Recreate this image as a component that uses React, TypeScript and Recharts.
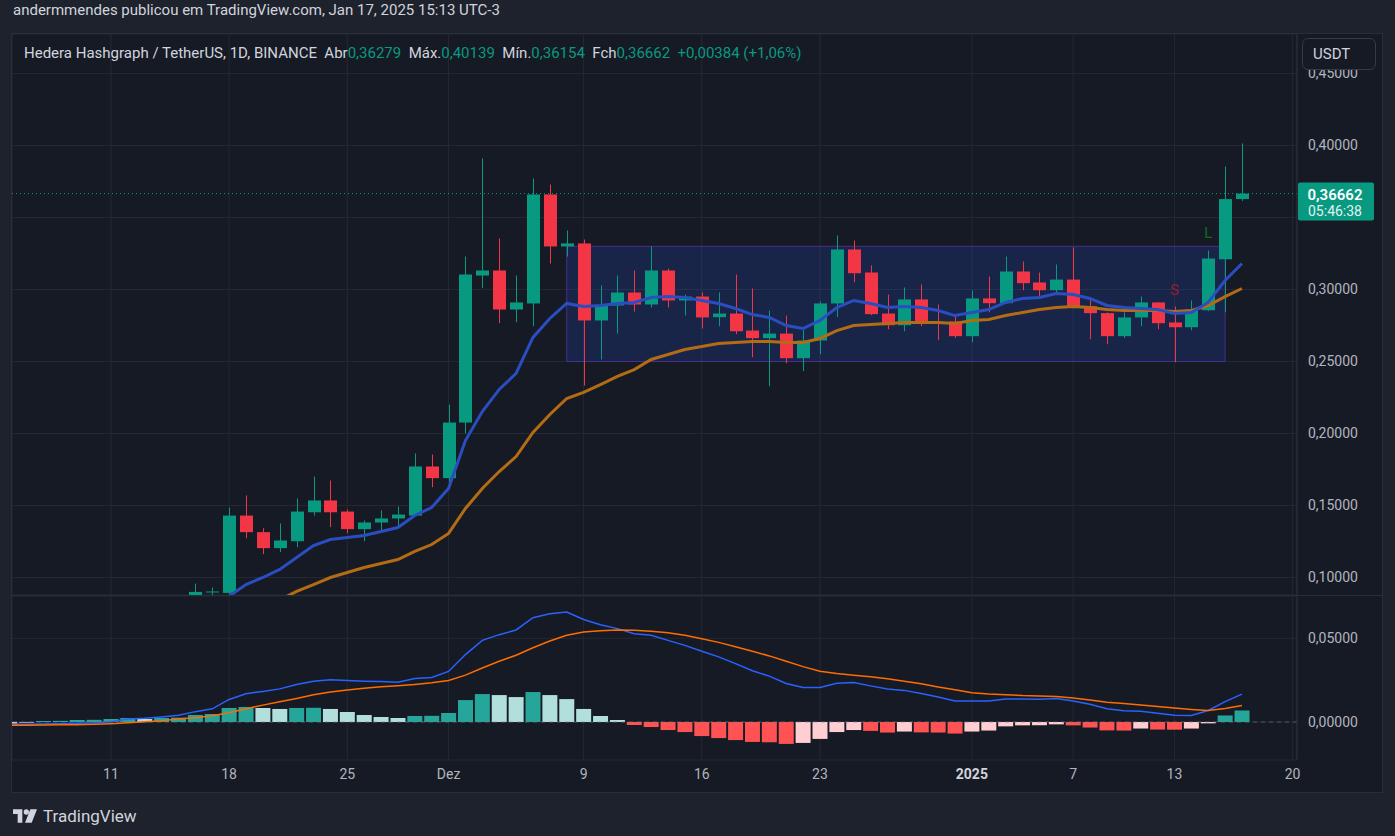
import {
  Bar,
  CartesianGrid,
  Cell,
  ComposedChart,
  Line,
  ReferenceArea,
  ReferenceDot,
  ReferenceLine,
  XAxis,
  YAxis,
} from "recharts";

// HBAR/USDT daily, 5 Nov 2024 (index 0) .. 17 Jan 2025 (index 73)
const openPx = [
  0.0482, 0.0508, 0.0545, 0.0562, 0.058, 0.0618, 0.0688, 0.0718, 0.0742, 0.0705, 0.069, 0.0765, 0.0897,
  0.0893, 0.143, 0.1315, 0.1204, 0.1252, 0.1453, 0.1535, 0.1458, 0.1336, 0.1382, 0.141, 0.143, 0.1771,
  0.169, 0.2076, 0.3097, 0.3132, 0.2861, 0.2903, 0.366, 0.3299, 0.332, 0.2785, 0.2889, 0.2979, 0.2896,
  0.3132, 0.2924, 0.2951, 0.2808, 0.2833, 0.2715, 0.2662, 0.2694, 0.2523, 0.2646, 0.2903, 0.3278, 0.3118,
  0.2833, 0.2752, 0.2931, 0.2775, 0.2778, 0.2676, 0.2938, 0.2905, 0.3125, 0.3049, 0.2995, 0.3069, 0.2884,
  0.2836, 0.2676, 0.2806, 0.291, 0.2771, 0.2738, 0.2856, 0.321, 0.36279,
];
const highPx = [
  0.0515, 0.0555, 0.057, 0.059, 0.064, 0.072, 0.0745, 0.079, 0.076, 0.073, 0.078, 0.0958, 0.0931,
  0.1486, 0.157, 0.1342, 0.1375, 0.1549, 0.1701, 0.1674, 0.1472, 0.1396, 0.1465, 0.1493, 0.1861, 0.1854,
  0.2201, 0.3229, 0.391, 0.3354, 0.3097, 0.3771, 0.3729, 0.341, 0.3347, 0.3028, 0.3097, 0.3132, 0.3299,
  0.3146, 0.2965, 0.298, 0.298, 0.3104, 0.3007, 0.2854, 0.2819, 0.2722, 0.2917, 0.3375, 0.334, 0.3167,
  0.2965, 0.3014, 0.3035, 0.2896, 0.2815, 0.2993, 0.309, 0.3229, 0.3194, 0.3118, 0.3174, 0.3292, 0.2944,
  0.2841, 0.2841, 0.2951, 0.2912, 0.2882, 0.2924, 0.3271, 0.3854, 0.40139,
];
const lowPx = [
  0.0478, 0.05, 0.053, 0.055, 0.0575, 0.061, 0.0665, 0.069, 0.068, 0.066, 0.0685, 0.076, 0.087,
  0.087, 0.1273, 0.1162, 0.1176, 0.121, 0.143, 0.135, 0.1308, 0.1252, 0.1315, 0.1354, 0.1425, 0.1627,
  0.1632, 0.2, 0.3009, 0.2766, 0.2773, 0.2745, 0.318, 0.3229, 0.2333, 0.2514, 0.2694, 0.2847, 0.2875,
  0.2875, 0.2819, 0.2729, 0.2745, 0.269, 0.253, 0.2328, 0.2488, 0.2433, 0.255, 0.2808, 0.3051, 0.2822,
  0.2724, 0.271, 0.2745, 0.2648, 0.2663, 0.2634, 0.2842, 0.29, 0.2995, 0.2947, 0.2962, 0.287, 0.2655,
  0.262, 0.2663, 0.2745, 0.2724, 0.2495, 0.2717, 0.285, 0.2842, 0.36154,
];
const closePx = [
  0.0508, 0.0545, 0.0562, 0.058, 0.0618, 0.0688, 0.0718, 0.0742, 0.0705, 0.069, 0.0765, 0.09, 0.0903,
  0.143, 0.1315, 0.1204, 0.1257, 0.1458, 0.1535, 0.1453, 0.1336, 0.1382, 0.141, 0.1437, 0.1771, 0.169,
  0.2076, 0.3104, 0.3132, 0.2861, 0.291, 0.366, 0.3299, 0.332, 0.2785, 0.2889, 0.2979, 0.2896, 0.3132,
  0.2924, 0.2951, 0.2806, 0.2833, 0.271, 0.2662, 0.2694, 0.2523, 0.2646, 0.2903, 0.3278, 0.3113, 0.2829,
  0.2752, 0.2931, 0.2773, 0.2771, 0.2676, 0.2938, 0.2905, 0.3125, 0.3044, 0.2995, 0.3069, 0.2875, 0.2836,
  0.2676, 0.2806, 0.291, 0.2766, 0.2738, 0.2861, 0.3215, 0.3628, 0.36662,
];
const emaFast = [
  0.05, 0.052, 0.054, 0.056, 0.058, 0.061, 0.064, 0.067, 0.068, 0.069, 0.071, 0.076, 0.08,
  0.087, 0.0951, 0.1, 0.1056, 0.1139, 0.1222, 0.1264, 0.1278, 0.1292, 0.132, 0.1347, 0.1431, 0.1486,
  0.1618, 0.1951, 0.2153, 0.2306, 0.2417, 0.2667, 0.2799, 0.2903, 0.2882, 0.2889, 0.2903, 0.291, 0.2944,
  0.2951, 0.2944, 0.2924, 0.2903, 0.2868, 0.2826, 0.2806, 0.275, 0.2729, 0.2785, 0.2875, 0.2924, 0.2903,
  0.2875, 0.2882, 0.2875, 0.2854, 0.2819, 0.284, 0.2861, 0.291, 0.2938, 0.2944, 0.2972, 0.2965, 0.2938,
  0.2889, 0.2875, 0.2868, 0.2861, 0.2833, 0.284, 0.291, 0.3063, 0.3181,
];
const emaSlow = [
  0.046, 0.048, 0.049, 0.051, 0.053, 0.055, 0.057, 0.059, 0.061, 0.062, 0.064, 0.067, 0.07,
  0.0745, 0.0785, 0.0815, 0.0845, 0.0903, 0.0951, 0.1, 0.1035, 0.1069, 0.1097, 0.1125, 0.1181, 0.1229,
  0.1306, 0.1479, 0.1618, 0.1736, 0.184, 0.2007, 0.2132, 0.2243, 0.2285, 0.234, 0.2396, 0.2444, 0.2514,
  0.2549, 0.2583, 0.2604, 0.2625, 0.2632, 0.2639, 0.2639, 0.2632, 0.2632, 0.266, 0.2715, 0.275, 0.2757,
  0.2764, 0.2771, 0.2771, 0.2771, 0.2764, 0.2785, 0.2792, 0.2819, 0.284, 0.2861, 0.2875, 0.2882, 0.2875,
  0.2861, 0.2854, 0.2854, 0.2854, 0.2847, 0.2854, 0.2889, 0.2951, 0.3007,
];
const macdLine = [
  -0.0014, -0.0014, -0.0012, -0.001, -0.0007, -0.0004, 0.0002, 0.0018, 0.0022, 0.003, 0.004, 0.0062, 0.0079,
  0.0135, 0.0169, 0.0183, 0.0198, 0.0224, 0.0244, 0.0252, 0.0248, 0.0244, 0.0242, 0.0238, 0.026, 0.0266,
  0.0302, 0.0403, 0.0488, 0.0522, 0.055, 0.0623, 0.0647, 0.0657, 0.0613, 0.0581, 0.0558, 0.0528, 0.0518,
  0.0488, 0.0458, 0.0423, 0.0389, 0.0349, 0.0306, 0.0274, 0.023, 0.0206, 0.0206, 0.0232, 0.0236, 0.0216,
  0.0197, 0.0189, 0.0171, 0.015, 0.0126, 0.0126, 0.0126, 0.0138, 0.0138, 0.0136, 0.014, 0.0126, 0.0106,
  0.0079, 0.0067, 0.0065, 0.0053, 0.0041, 0.0039, 0.0069, 0.0122, 0.0167,
];
const signalLine = [
  -0.002, -0.0019, -0.0018, -0.0017, -0.0016, -0.0014, -0.001, -0.0005, 0.0002, 0.0008, 0.0018, 0.0026, 0.0038,
  0.0056, 0.0079, 0.0101, 0.0121, 0.0141, 0.0163, 0.0179, 0.0192, 0.0202, 0.021, 0.0216, 0.0224, 0.0234,
  0.0248, 0.028, 0.0323, 0.0363, 0.0399, 0.0444, 0.0484, 0.0518, 0.0538, 0.0546, 0.055, 0.0548, 0.0542,
  0.0534, 0.0518, 0.0498, 0.0476, 0.045, 0.0423, 0.0395, 0.0363, 0.0331, 0.0304, 0.029, 0.028, 0.027,
  0.0258, 0.0244, 0.0228, 0.0209, 0.0193, 0.0175, 0.0167, 0.0163, 0.0158, 0.0156, 0.0152, 0.0144, 0.0132,
  0.0118, 0.011, 0.0102, 0.0092, 0.0083, 0.0075, 0.0069, 0.0081, 0.0098,
];
const histogram = [
  -0.001, -0.0004, 0.0006, 0.0007, 0.0012, 0.0013, 0.0018, 0.0024, 0.0018, 0.0024, 0.0026, 0.0042, 0.0048,
  0.0084, 0.009, 0.0084, 0.0078, 0.0084, 0.0085, 0.0078, 0.006, 0.0042, 0.003, 0.0024, 0.0036, 0.0037,
  0.0054, 0.0131, 0.0167, 0.0161, 0.0149, 0.0179, 0.0161, 0.0137, 0.0078, 0.0036, 0.0012, -0.0018, -0.003,
  -0.0048, -0.006, -0.0084, -0.0096, -0.0108, -0.0119, -0.0121, -0.0131, -0.0125, -0.0101, -0.006, -0.0048, -0.0053,
  -0.0063, -0.0057, -0.0062, -0.0063, -0.0069, -0.0057, -0.0051, -0.0026, -0.002, -0.0019, -0.0014, -0.002, -0.0033,
  -0.005, -0.0051, -0.0039, -0.0045, -0.0046, -0.0039, -0.0008, 0.0039, 0.0069,
];

const priceTicks = [0.1, 0.15, 0.2, 0.25, 0.3, 0.35, 0.4, 0.45];
const macdTicks = [0, 0.05];
const tickDays = [6, 13, 20, 26, 34, 41, 48, 57, 63, 69, 76];
const tickLabels = ["11", "18", "25", "Dez", "9", "16", "23", "2025", "7", "13", "20"];

// consolidation box (8 Dec .. 16 Jan) and the L / S marks
const boxDays = [33, 72];
const boxPrices = [0.25, 0.33];
const marks = [
  { i: 71, price: 0.339, text: "L", color: "#0E6A26" },
  { i: 69, price: 0.3, text: "S", color: "#9A1A2E" },
];

const UP = "#089981";
const DOWN = "#F23645";
const BG = "#161A25";
const OUTER = "#1E222D";
const GRID = "#242832";
const AXIS_TEXT = "#B2B5BE";
const FONT = 'Roboto, "Noto Sans", sans-serif';

const X_DOMAIN: [number, number] = [0.14, 76.26];
const PRICE_DOMAIN: [number, number] = [0.08785, 0.47743];
const MACD_DOMAIN: [number, number] = [-0.0227, 0.0753];

const rows = closePx.map((close, i) => ({
  i,
  open: openPx[i],
  high: highPx[i],
  low: lowPx[i],
  close,
  fast: emaFast[i],
  slow: emaSlow[i],
  macd: macdLine[i],
  signal: signalLine[i],
  hist: histogram[i],
}));

const last = rows[rows.length - 1];

const fmt = (v: number) => v.toFixed(5).replace(".", ",");

function histTone(i: number) {
  const h = histogram[i];
  const prev = i > 0 ? histogram[i - 1] : h;
  if (h >= 0) return h > prev ? "#26A69A" : "#B2DFDB";
  return h < prev ? "#FF5252" : "#FFCDD2";
}

function Candle(props: any) {
  const { x, y, width, height, payload } = props;
  if (height == null || !payload) return null;
  const { open, close, high, low } = payload;
  const color = close >= open ? UP : DOWN;
  const k = height / (high - low);
  const yOpen = y + (high - open) * k;
  const yClose = y + (high - close) * k;
  const cx = Math.round(x + width / 2) + 0.5;
  const top = Math.min(yOpen, yClose);
  const h = Math.max(1, Math.abs(yOpen - yClose));
  return (
    <g>
      <line x1={cx} x2={cx} y1={y} y2={y + height} stroke={color} strokeWidth={1} />
      <rect x={cx - 6.5} y={top} width={13} height={h} fill={color} />
    </g>
  );
}

// price scale label; the one behind the last-price tag is covered in the original
function PriceTick(props: any) {
  const { x, y, payload } = props;
  if (Math.abs(payload.value - last.close) < 0.02) return null;
  return (
    <text x={x} y={y} dy="0.355em" textAnchor="start" fill={AXIS_TEXT} fontSize={14} fontFamily={FONT}>
      {fmt(payload.value)}
    </text>
  );
}

function PriceTag(props: any) {
  const vb = props.viewBox;
  if (!vb) return null;
  const left = vb.x + vb.width + 1;
  return (
    <g>
      <rect x={left} y={vb.y - 11} width={76} height={38} rx={2} fill={UP} />
      <text x={left + 37} y={vb.y + 1} textAnchor="middle" dominantBaseline="central" fill="#FFFFFF" fontSize={15} fontWeight={600} fontFamily={FONT}>
        {fmt(last.close)}
      </text>
      <text x={left + 37} y={vb.y + 17} textAnchor="middle" dominantBaseline="central" fill="#E0F2EF" fontSize={14} fontFamily={FONT}>
        05:46:38
      </text>
    </g>
  );
}

function DayTick(props: any) {
  const { x, y, payload } = props;
  const idx = tickDays.indexOf(payload.value);
  const label = tickLabels[idx] ?? "";
  const bold = label === "2025";
  return (
    <text x={x} y={y + 14} textAnchor="middle" dominantBaseline="central" fill={bold ? "#D1D4DC" : AXIS_TEXT} fontSize={14} fontWeight={bold ? 700 : 400} fontFamily={FONT}>
      {label}
    </text>
  );
}

function Legend() {
  const g = { color: UP };
  return (
    <div style={{ position: "absolute", left: 24, top: 44, fontSize: 15, color: "#D1D4DC", fontFamily: FONT, whiteSpace: "pre" }}>
      Hedera Hashgraph / TetherUS, 1D, BINANCE  Abr<span style={g}>0,36279</span>  Máx.<span style={g}>0,40139</span>  Mín.<span style={g}>0,36154</span>  Fch<span style={g}>0,36662</span>  <span style={g}>+0,00384 (+1,06%)</span>
    </div>
  );
}

export default function App() {
  return (
    <div style={{ position: "absolute", left: 0, top: 0, width: 1395, height: 836, background: OUTER, overflow: "hidden", fontFamily: FONT }}>
      <div style={{ position: "absolute", left: 13, top: 1, fontSize: 15, color: "#D1D4DC" }}>
        andermmendes publicou em TradingView.com, Jan 17, 2025 15:13 UTC-3
      </div>

      <div style={{ position: "absolute", left: 11, top: 33, width: 1370, height: 758, background: BG, border: "1px solid #2A2E39" }} />

      <div style={{ position: "absolute", left: 12, top: 34 }}>
        <ComposedChart width={1370} height={561} data={rows} margin={{ top: 0, right: 0, bottom: 0, left: 0 }}>
          <CartesianGrid stroke={GRID} />
          <XAxis dataKey="i" type="number" domain={X_DOMAIN} ticks={tickDays} interval={0} allowDataOverflow hide />
          <YAxis
            orientation="right"
            width={85}
            domain={PRICE_DOMAIN}
            ticks={priceTicks}
            interval={0}
            allowDataOverflow
            tickLine={false}
            tickSize={6}
            tickMargin={5}
            axisLine={{ stroke: "#2A2E39" }}
            tick={<PriceTick />}
          />
          <ReferenceArea x1={boxDays[0]} x2={boxDays[1]} y1={boxPrices[0]} y2={boxPrices[1]} fill="#2962FF" fillOpacity={0.16} stroke="#4B2C8F" strokeWidth={1} />
          <Line dataKey="slow" type="linear" stroke="#B36C14" strokeWidth={3} dot={false} isAnimationActive={false} />
          <Line dataKey="fast" type="linear" stroke="#2A4EC2" strokeWidth={3} dot={false} isAnimationActive={false} />
          <Bar dataKey={(d: any) => [d.low, d.high]} barSize={13} shape={<Candle />} isAnimationActive={false} />
          {marks.map((m) => (
            <ReferenceDot
              key={m.text}
              x={m.i}
              y={m.price}
              r={0}
              shape={(p: any) => (
                <text x={p.cx} y={p.cy} textAnchor="middle" dominantBaseline="central" fill={m.color} fontSize={15} fontFamily={FONT}>
                  {m.text}
                </text>
              )}
            />
          ))}
          <ReferenceLine y={last.close} stroke={UP} strokeDasharray="1 3" label={(p: any) => <PriceTag viewBox={p.viewBox} />} />
        </ComposedChart>
      </div>

      <div style={{ position: "absolute", left: 12, top: 595, width: 1370, height: 1, background: "#2A2E39" }} />

      <div style={{ position: "absolute", left: 12, top: 596 }}>
        <ComposedChart width={1370} height={196} data={rows} margin={{ top: 0, right: 0, bottom: 0, left: 0 }}>
          <CartesianGrid stroke={GRID} />
          <XAxis
            dataKey="i"
            type="number"
            domain={X_DOMAIN}
            ticks={tickDays}
            interval={0}
            allowDataOverflow
            height={32}
            axisLine={false}
            tickLine={false}
            tickSize={0}
            tickMargin={0}
            tick={<DayTick />}
          />
          <YAxis
            orientation="right"
            width={85}
            domain={MACD_DOMAIN}
            ticks={macdTicks}
            interval={0}
            allowDataOverflow
            tickFormatter={fmt}
            tickLine={false}
            tickSize={6}
            tickMargin={5}
            axisLine={{ stroke: "#2A2E39" }}
            tick={{ fill: AXIS_TEXT, fontSize: 14, fontFamily: FONT }}
          />
          <ReferenceLine y={0} stroke="#787B86" strokeOpacity={0.6} strokeDasharray="4 4" />
          <Bar dataKey="hist" barSize={15} isAnimationActive={false}>
            {rows.map((r) => (
              <Cell key={r.i} fill={histTone(r.i)} />
            ))}
          </Bar>
          <Line dataKey="macd" type="linear" stroke="#2962FF" strokeWidth={1.5} dot={false} isAnimationActive={false} />
          <Line dataKey="signal" type="linear" stroke="#FF6D00" strokeWidth={1.5} dot={false} isAnimationActive={false} />
        </ComposedChart>
      </div>

      <Legend />

      <div style={{ position: "absolute", left: 1302, top: 38, width: 62, height: 30, border: "1px solid #363A45", borderRadius: 6, background: BG, color: "#D1D4DC", fontSize: 15, lineHeight: "30px", paddingLeft: 10 }}>
        USDT
      </div>

      <div style={{ position: "absolute", left: 13, top: 806, display: "flex", alignItems: "center", gap: 6 }}>
        <svg width={24} height={14} viewBox="0 0 36 20">
          <path d="M0 0h14v20H7V7H0z" fill="#D1D4DC" />
          <circle cx={20} cy={4} r={4} fill="#D1D4DC" />
          <path d="M26 0h10l-8 20H18z" fill="#D1D4DC" />
        </svg>
        <span style={{ color: "#D1D4DC", fontSize: 17 }}>TradingView</span>
      </div>
    </div>
  );
}
